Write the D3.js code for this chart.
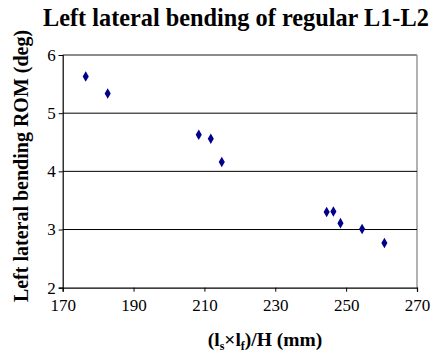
<!DOCTYPE html>
<html>
<head>
<meta charset="utf-8">
<script src="https://cdn.jsdelivr.net/npm/d3@7"></script>
<style>
  body { margin: 0; background: #fff; }
  text { font-family: "Liberation Serif", "Times New Roman", serif; }
</style>
</head>
<body>
<div id="chart"></div>
<script>
// data
var ratio = [176.5, 182.7, 208.4, 211.8, 214.9, 244.5, 246.4, 248.4, 254.5, 260.8];
var rom = [5.63, 5.34, 4.63, 4.56, 4.16, 3.30, 3.31, 3.11, 3.01, 2.77];
var xTicks = [170, 190, 210, 230, 250, 270];
var yTicks = [2, 3, 4, 5, 6];

var width = 433, height = 358;
var plot = {left: 62.7, right: 417, top: 55, bottom: 287.7};
var serif = "'Liberation Serif', 'Times New Roman', serif";

var svg = d3.select("#chart").append("svg")
  .attr("width", width).attr("height", height);

var x = d3.scaleLinear().domain([170, 270]).range([plot.left, plot.right]);
var y = d3.scaleLinear().domain([2, 6]).range([plot.bottom, plot.top]);

// plot border top and right
svg.append("line")
  .attr("x1", plot.left).attr("x2", plot.right)
  .attr("y1", plot.top).attr("y2", plot.top)
  .attr("stroke", "#666").attr("stroke-width", 1.5);
svg.append("line")
  .attr("x1", plot.right).attr("x2", plot.right)
  .attr("y1", plot.top).attr("y2", plot.bottom)
  .attr("stroke", "#999").attr("stroke-width", 1.5);

// grid lines
svg.append("g").selectAll("line")
  .data(yTicks.filter(function(d) { return d > 2 && d < 6; }))
  .join("line")
  .attr("x1", plot.left).attr("x2", plot.right)
  .attr("y1", function(d) { return y(d); }).attr("y2", function(d) { return y(d); })
  .attr("stroke", "#000").attr("stroke-width", 1);

// axes
var xAxis = svg.append("g")
  .attr("transform", `translate(0, ${plot.bottom})`)
  .call(d3.axisBottom(x).tickValues(xTicks).tickFormat(d3.format("d"))
    .tickSize(4).tickPadding(7));
var yAxis = svg.append("g")
  .attr("transform", `translate(${plot.left}, 0)`)
  .call(d3.axisLeft(y).tickValues(yTicks).tickFormat(d3.format("d"))
    .tickSize(4).tickPadding(3));

[xAxis, yAxis].forEach(function(a) {
  a.attr("font-family", serif).attr("font-size", 17);
  a.select(".domain").attr("stroke", "#000").attr("stroke-width", 1.2);
  a.selectAll(".tick line").attr("stroke", "#000");
  a.selectAll(".tick text").attr("fill", "#000")
    .style("font-family", serif).style("font-size", "17px");
});

// points as diamonds
svg.append("g").selectAll("path")
  .data(ratio.map(function(d, i) { return [d, rom[i]]; }))
  .join("path")
  .attr("d", d3.symbol().type(d3.symbolDiamond).size(32))
  .attr("transform", function(d) { return `translate(${x(d[0])}, ${y(d[1])})`; })
  .attr("fill", "#00008b");

// title
svg.append("text")
  .attr("x", 43).attr("y", 26)
  .attr("font-size", "24.3px").attr("font-weight", "bold")
  .text("Left lateral bending of regular L1-L2");

// y label
svg.append("text")
  .attr("transform", "translate(28, 166) rotate(-90)")
  .attr("text-anchor", "middle")
  .attr("font-size", "20px").attr("font-weight", "bold")
  .text("Left lateral bending ROM (deg)");

// x label
var xl = svg.append("text")
  .attr("x", 265).attr("y", 346)
  .attr("text-anchor", "middle")
  .attr("font-size", "19.5px").attr("font-weight", "bold");
xl.append("tspan").text("(l");
xl.append("tspan").attr("font-size", "12px").attr("dy", 4).text("s");
xl.append("tspan").attr("dy", -4).text("×l");
xl.append("tspan").attr("font-size", "12px").attr("dy", 4).text("f");
xl.append("tspan").attr("dy", -4).text(")/H (mm)");
</script>
</body>
</html>
